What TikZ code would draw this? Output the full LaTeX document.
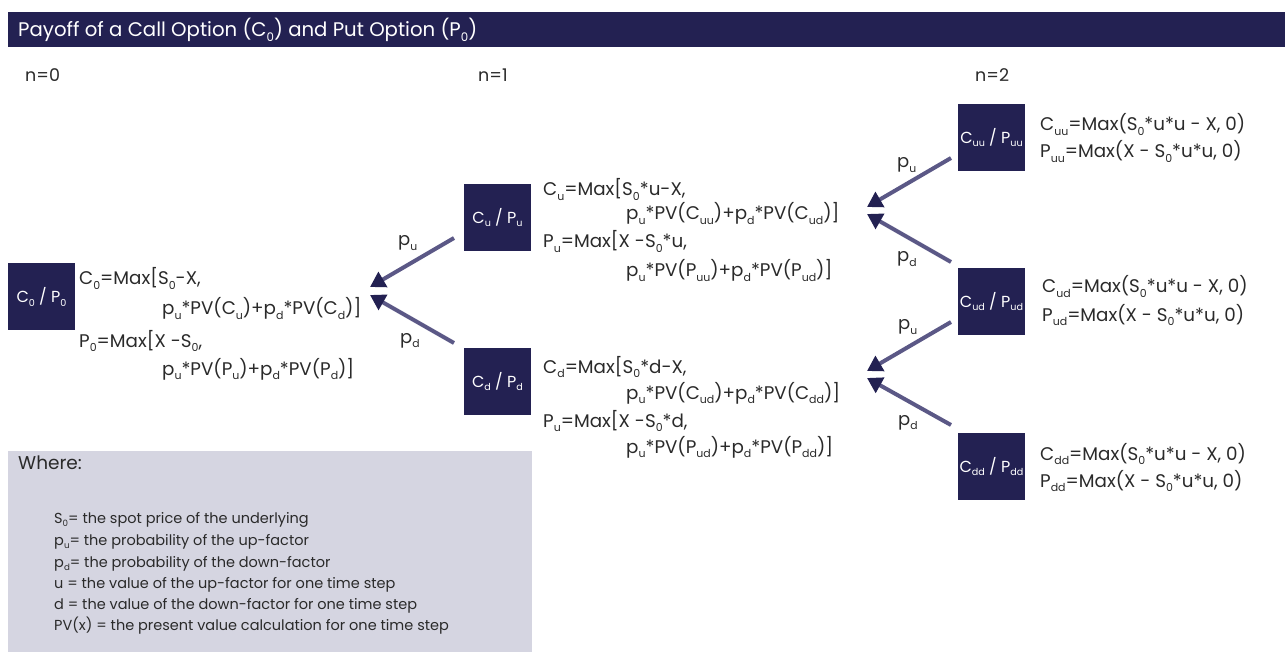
\documentclass[tikz,border=0pt]{standalone}
\usepackage{fontspec}
\usepackage{graphicx}
\setmainfont{Poppins}
\usetikzlibrary{arrows.meta}
\definecolor{navy}{HTML}{232152}
\definecolor{arrowc}{HTML}{5B5886}
\definecolor{legendc}{HTML}{D5D5E1}
\definecolor{txt}{HTML}{2A2A2A}
\newcommand\sbx[1]{\raisebox{-0.45ex}{\scalebox{0.6}{#1}}}
\begin{document}
\begin{tikzpicture}[x=1pt,y=-1pt,
  box/.style={fill=navy, minimum size=67pt, inner sep=0pt, text=white, font=\fontsize{16}{18}\selectfont},
  fml/.style={anchor=base west, inner sep=0pt, text=txt, font=\fontsize{18.3}{20}\selectfont},
  plab/.style={anchor=base west, inner sep=0pt, text=txt, font=\fontsize{18}{20}\selectfont},
  nlab/.style={anchor=base west, inner sep=0pt, text=txt, font=\fontsize{17.5}{20}\selectfont},
  leg/.style={anchor=base west, inner sep=0pt, text=txt, font=\fontsize{14.5}{17}\selectfont},
  conn/.style={draw=arrowc, line width=4pt, -{Triangle[length=15pt,width=17pt,color=navy]}}
]
\useasboundingbox (0,0) rectangle (1285,652);
% header
\fill[navy] (8,12) rectangle (1285,47);
\node[anchor=base west, inner sep=0pt, text=white, font=\fontsize{19.7}{22}\selectfont] (title) at (18,37) {Payoff of a Call Option (C\sbx{0}) and Put Option (P\sbx{0})};
% n labels
\node[nlab] (n0) at (25,82) {n=0};
\node[nlab] (n1) at (478,82) {n=1};
\node[nlab] (n2) at (975,82) {n=2};
% legend
\fill[legendc] (8,451) rectangle (532,652);
\node[anchor=base west, inner sep=0pt, text=txt, font=\fontsize{18.5}{20}\selectfont] (where) at (18,469) {Where:};
\node[leg] (l1) at (54,523) {S\sbx{0}= the spot price of the underlying};
\node[leg] (l2) at (54,545) {p\sbx{u}= the probability of the up-factor};
\node[leg] (l3) at (54,567) {p\sbx{d}= the probability of the down-factor};
\node[leg] (l4) at (54,588) {u = the value of the up-factor for one time step};
\node[leg] (l5) at (54,609) {d = the value of the down-factor for one time step};
\node[leg] (l6) at (54,630) {PV(x) = the present value calculation for one time step};
% boxes
\node[box] (b0) at (41.5,296.5) {C\sbx{0} / P\sbx{0}};
\node[box] (bu) at (497.5,217.5) {C\sbx{u} / P\sbx{u}};
\node[box] (bd) at (497.5,381.5) {C\sbx{d} / P\sbx{d}};
\node[box] (buu) at (991.5,137.5) {C\sbx{uu} / P\sbx{uu}};
\node[box] (bud) at (991.5,301.5) {C\sbx{ud} / P\sbx{ud}};
\node[box] (bdd) at (991.5,466.5) {C\sbx{dd} / P\sbx{dd}};
% formulas n=0
\node[fml] (f01) at (79,285) {C\sbx{0}=Max[S\sbx{0}-X,};
\node[fml] (f02) at (162,315) {p\sbx{u}*PV(C\sbx{u})+p\sbx{d}*PV(C\sbx{d})]};
\node[fml] (f03) at (79,347) {P\sbx{0}=Max[X -S\sbx{0},};
\node[fml] (f04) at (162,375) {p\sbx{u}*PV(P\sbx{u})+p\sbx{d}*PV(P\sbx{d})]};
% formulas up
\node[fml] (fu1) at (543,196) {C\sbx{u}=Max[S\sbx{0}*u-X,};
\node[fml] (fu2) at (626,220) {p\sbx{u}*PV(C\sbx{uu})+p\sbx{d}*PV(C\sbx{ud})]};
\node[fml] (fu3) at (543,248) {P\sbx{u}=Max[X -S\sbx{0}*u,};
\node[fml] (fu4) at (626,277) {p\sbx{u}*PV(P\sbx{uu})+p\sbx{d}*PV(P\sbx{ud})]};
% formulas down
\node[fml] (fd1) at (543,373) {C\sbx{d}=Max[S\sbx{0}*d-X,};
\node[fml] (fd2) at (626,399) {p\sbx{u}*PV(C\sbx{ud})+p\sbx{d}*PV(C\sbx{dd})]};
\node[fml] (fd3) at (543,427) {P\sbx{u}=Max[X -S\sbx{0}*d,};
\node[fml] (fd4) at (626,453) {p\sbx{u}*PV(P\sbx{ud})+p\sbx{d}*PV(P\sbx{dd})]};
% formulas n=2
\node[fml] (g11) at (1040,131) {C\sbx{uu}=Max(S\sbx{0}*u*u - X, 0)};
\node[fml] (g12) at (1040,158) {P\sbx{uu}=Max(X - S\sbx{0}*u*u, 0)};
\node[fml] (g21) at (1042,293) {C\sbx{ud}=Max(S\sbx{0}*u*u - X, 0)};
\node[fml] (g22) at (1042,321) {P\sbx{ud}=Max(X - S\sbx{0}*u*u, 0)};
\node[fml] (g31) at (1040,460) {C\sbx{dd}=Max(S\sbx{0}*u*u - X, 0)};
\node[fml] (g32) at (1040,487) {P\sbx{dd}=Max(X - S\sbx{0}*u*u, 0)};
% connector coordinates
\coordinate (su) at (454,238); \coordinate (tu) at (370,287);
\coordinate (sd) at (454,343); \coordinate (td) at (370,295);
\coordinate (suu) at (951,158); \coordinate (tuu) at (867,207);
\coordinate (sud) at (951,262); \coordinate (tud) at (867,214);
\coordinate (sud2) at (951,322); \coordinate (tud2) at (867,371);
\coordinate (sdd) at (951,425); \coordinate (tdd) at (867,378);
\draw[conn] (su) -- (tu);
\draw[conn] (sd) -- (td);
\draw[conn] (suu) -- (tuu);
\draw[conn] (sud) -- (tud);
\draw[conn] (sud2) -- (tud2);
\draw[conn] (sdd) -- (tdd);
% probability labels
\node[plab] (p1) at (398,246) {p\sbx{u}};
\node[plab] (p2) at (400,343) {p\sbx{d}};
\node[plab] (p3) at (897,168) {p\sbx{u}};
\node[plab] (p4) at (897,262) {p\sbx{d}};
\node[plab] (p5) at (898,330) {p\sbx{u}};
\node[plab] (p6) at (898,425) {p\sbx{d}};
\end{tikzpicture}
\end{document}
